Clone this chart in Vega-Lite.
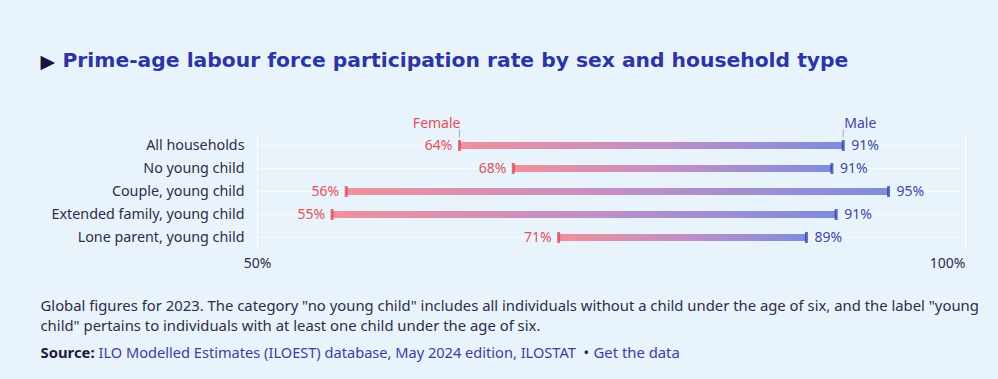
{
  "$schema": "https://vega.github.io/schema/vega-lite/v6.json",
  "width": 708,
  "height": 115,
  "autosize": {"type": "none"},
  "padding": {"left": 257, "top": 134, "right": 33, "bottom": 130},
  "background": "#e9f3fc",
  "config": {"view": {"stroke": null}, "font": "Noto Sans"},
  "datasets": {
    "main": [
      {"household": "All households", "female": 0.643, "male": 0.914},
      {"household": "No young child", "female": 0.681, "male": 0.906},
      {"household": "Couple, young child", "female": 0.563, "male": 0.946},
      {"household": "Extended family, young child", "female": 0.553, "male": 0.909},
      {"household": "Lone parent, young child", "female": 0.713, "male": 0.888}
    ],
    "head": [
      {"household": "All households", "sex": "Female", "v": 0.643},
      {"household": "All households", "sex": "Male", "v": 0.914}
    ]
  },
  "data": {"name": "main"},
  "layer": [
    {
      "mark": {
        "type": "bar",
        "size": 7,
        "color": {
          "x1": 0, "y1": 0, "x2": 1, "y2": 0,
          "gradient": "linear",
          "stops": [
            {"offset": 0, "color": "#f0909b"},
            {"offset": 0.5, "color": "#c28fc6"},
            {"offset": 1, "color": "#7e8ddc"}
          ]
        }
      },
      "encoding": {
        "x": {
          "field": "female", "type": "quantitative",
          "scale": {"domain": [0.5, 1], "nice": false, "zero": false},
          "axis": {
            "values": [0.5, 1], "format": ".0%", "grid": true, "gridColor": "#ffffff", "gridOpacity": 1, "gridWidth": 1,
            "domain": false, "ticks": false, "labelPadding": 7, "labelFontSize": 14, "labelColor": "#2e2c4a",
            "labelAlign": {"condition": {"test": "datum.value == 1", "value": "right"}, "value": "center"},
            "title": ["Global figures for 2023. The category \"no young child\" includes all individuals without a child under the age of six, and the label \"young", "child\" pertains to individuals with at least one child under the age of six."],
            "titleX": -217, "titleY": 61, "titleAlign": "left", "titleAnchor": "start", "titleBaseline": "alphabetic",
            "titleFontSize": 14.85, "titleFontWeight": "normal", "titleColor": "#2e2c4a", "titleLineHeight": 20, "titleLimit": 0
          }
        },
        "x2": {"field": "male"},
        "y": {
          "field": "household", "type": "nominal", "sort": null,
          "scale": {"paddingInner": 0, "paddingOuter": 0},
          "axis": {
            "grid": true, "gridColor": "#ffffff", "gridDash": [2, 2], "gridOpacity": 1, "bandPosition": 0.5,
            "domain": false, "ticks": false, "labelPadding": 13, "labelFontSize": 14.3, "labelColor": "#2e2c4a", "labelLimit": 0,
            "title": "▶", "titleFont": "DejaVu Sans", "titleFontSize": 19, "titleColor": "#1c1240", "titleAngle": 0,
            "titleX": -217, "titleY": -67, "titleAlign": "left", "titleBaseline": "alphabetic"
          }
        }
      }
    },
    {
      "mark": {"type": "tick", "color": "#d93a4c", "thickness": 3, "size": 11},
      "encoding": {
        "x": {
          "field": "female", "type": "quantitative",
          "axis": {
            "orient": "top", "labels": false, "ticks": false, "domain": false, "grid": false,
            "title": "Prime-age labour force participation rate by sex and household type",
            "titleX": -195, "titleY": -67.5, "titleAlign": "left", "titleAnchor": "start", "titleBaseline": "alphabetic",
            "titleFont": "DejaVu Sans", "titleFontSize": 20.3, "titleFontWeight": "bold", "titleColor": "#2b35a8", "titleLimit": 0
          }
        },
        "y": {
          "field": "household", "type": "nominal", "sort": null,
          "axis": {
            "orient": "right", "labels": false, "ticks": false, "domain": false, "grid": false,
            "title": "Source:", "titleAngle": 0, "titleX": -925, "titleY": 223, "titleAlign": "left", "titleBaseline": "alphabetic",
            "titleFontSize": 14.85, "titleFontWeight": "bold", "titleColor": "#1f1a3d"
          }
        }
      }
    },
    {
      "mark": {"type": "tick", "color": "#2030aa", "thickness": 3, "size": 11},
      "encoding": {
        "x": {
          "field": "male", "type": "quantitative",
          "axis": {
            "orient": "bottom", "labels": false, "ticks": false, "domain": false, "grid": false,
            "title": "ILO Modelled Estimates (ILOEST) database, May 2024 edition, ILOSTAT",
            "titleX": -159, "titleY": 108, "titleAlign": "left", "titleAnchor": "start", "titleBaseline": "alphabetic",
            "titleFontSize": 14.6, "titleFontWeight": "normal", "titleColor": "#3b3ea0", "titleLimit": 0
          }
        },
        "y": {
          "field": "household", "type": "nominal", "sort": null,
          "axis": {
            "orient": "right", "labels": false, "ticks": false, "domain": false, "grid": false,
            "title": "•", "titleAngle": 0, "titleX": -382, "titleY": 223, "titleAlign": "left", "titleBaseline": "alphabetic",
            "titleFontSize": 14.85, "titleFontWeight": "normal", "titleColor": "#1f1a3d"
          }
        }
      }
    },
    {
      "mark": {"type": "text", "align": "right", "baseline": "middle", "dx": -7, "fontSize": 14, "color": "#e0505a"},
      "encoding": {
        "x": {
          "field": "female", "type": "quantitative",
          "axis": {
            "orient": "bottom", "labels": false, "ticks": false, "domain": false, "grid": false,
            "title": "Get the data",
            "titleX": 336, "titleY": 108, "titleAlign": "left", "titleAnchor": "start", "titleBaseline": "alphabetic",
            "titleFontSize": 14.85, "titleFontWeight": "normal", "titleColor": "#3b3ea0"
          }
        },
        "y": {"field": "household", "type": "nominal", "sort": null, "axis": null},
        "text": {"field": "female", "type": "quantitative", "format": ".0%"}
      }
    },
    {
      "mark": {"type": "text", "align": "left", "baseline": "middle", "dx": 8, "fontSize": 14, "color": "#3d48a6"},
      "encoding": {
        "x": {"field": "male", "type": "quantitative", "axis": null},
        "y": {"field": "household", "type": "nominal", "sort": null, "axis": null},
        "text": {"field": "male", "type": "quantitative", "format": ".0%"}
      }
    },
    {
      "data": {"name": "head"},
      "mark": {"type": "tick", "color": "#8a8fa8", "thickness": 1, "size": 8, "yOffset": -12},
      "encoding": {
        "x": {"field": "v", "type": "quantitative", "axis": null},
        "y": {"field": "household", "type": "nominal", "sort": null, "axis": null}
      }
    },
    {
      "data": {"name": "head"},
      "transform": [{"filter": "datum.sex == 'Female'"}],
      "mark": {"type": "text", "align": "right", "baseline": "alphabetic", "dx": 1, "dy": -18, "fontSize": 14, "color": "#e0505a"},
      "encoding": {
        "x": {"field": "v", "type": "quantitative", "axis": null},
        "y": {"field": "household", "type": "nominal", "sort": null, "axis": null},
        "text": {"field": "sex"}
      }
    },
    {
      "data": {"name": "head"},
      "transform": [{"filter": "datum.sex == 'Male'"}],
      "mark": {"type": "text", "align": "left", "baseline": "alphabetic", "dx": 1, "dy": -18, "fontSize": 14, "color": "#3d48a6"},
      "encoding": {
        "x": {"field": "v", "type": "quantitative", "axis": null},
        "y": {"field": "household", "type": "nominal", "sort": null, "axis": null},
        "text": {"field": "sex"}
      }
    }
  ],
  "resolve": {"axis": {"x": "independent", "y": "independent"}}
}
